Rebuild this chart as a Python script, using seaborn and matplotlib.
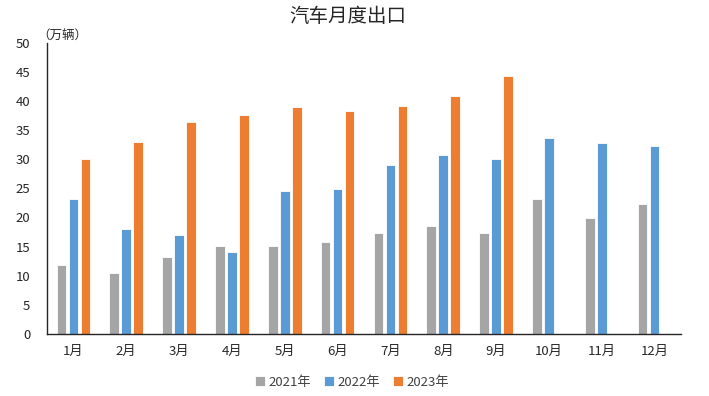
import matplotlib
matplotlib.use("Agg")
import matplotlib.pyplot as plt
import seaborn as sns
import pandas as pd

months = ["1月", "2月", "3月", "4月", "5月", "6月", "7月", "8月", "9月", "10月", "11月", "12月"]
years = ["2021年", "2022年", "2023年"]
v2021 = [11.9, 10.5, 13.3, 15.1, 15.1, 15.8, 17.4, 18.6, 17.3, 23.1, 19.9, 22.3]
v2022 = [23.2, 18.0, 17.0, 14.1, 24.5, 24.9, 29.0, 30.8, 30.1, 33.7, 32.8, 32.2]
v2023 = [30.1, 33.0, 36.4, 37.6, 38.9, 38.2, 39.1, 40.8, 44.3, None, None, None]
yticks = list(range(0, 55, 5))

rows = []
for yr, vals in zip(years, [v2021, v2022, v2023]):
    for m, v in zip(months, vals):
        rows.append({"month": m, "year": yr, "value": v})
df = pd.DataFrame(rows)

sns.set_theme(style="white")
plt.rcParams["font.family"] = ["Noto Sans CJK SC", "DejaVu Sans"]

fig = plt.figure(figsize=(7.09, 3.96), dpi=100)
ax = fig.add_axes([0.0663, 0.1566, 0.8942, 0.7354])

palette = {"2021年": "#A5A5A5", "2022年": "#5B9BD5", "2023年": "#ED7D31"}
sns.barplot(data=df, x="month", y="value", hue="year", order=months, hue_order=years,
            palette=palette, width=0.68, gap=0.2, ax=ax, saturation=1, legend=True,
            edgecolor="white", linewidth=0.6)

ax.set_ylim(0, 50)
ax.set_yticks(yticks)
ax.set_xlim(-0.5, 11.5)
ax.set_xlabel("")
ax.set_ylabel("")
ax.tick_params(axis="both", length=0, labelsize=9.5, colors="#262626", pad=8)
ax.tick_params(axis="y", pad=12)
for s in ["top", "right"]:
    ax.spines[s].set_visible(False)
ax.spines["left"].set_color("#262626")
ax.spines["bottom"].set_color("#262626")
ax.spines["left"].set_linewidth(1.0)
ax.spines["bottom"].set_linewidth(1.0)

fig.text(0.491, 0.958, "汽车月度出口", ha="center", va="center", fontsize=14, color="#262626")
fig.text(0.052, 0.912, "（万辆）", ha="left", va="center", fontsize=9, color="#262626")

handles, labels = ax.get_legend_handles_labels()
ax.legend_.remove()
fig.legend(handles, labels, loc="center", bbox_to_anchor=(0.497, 0.035), ncol=3, frameon=False,
           fontsize=9.5, handlelength=0.7, handleheight=0.7, handletextpad=0.3, columnspacing=1.0,
           labelcolor="#404040")

fig.savefig("out.png", dpi=100)
